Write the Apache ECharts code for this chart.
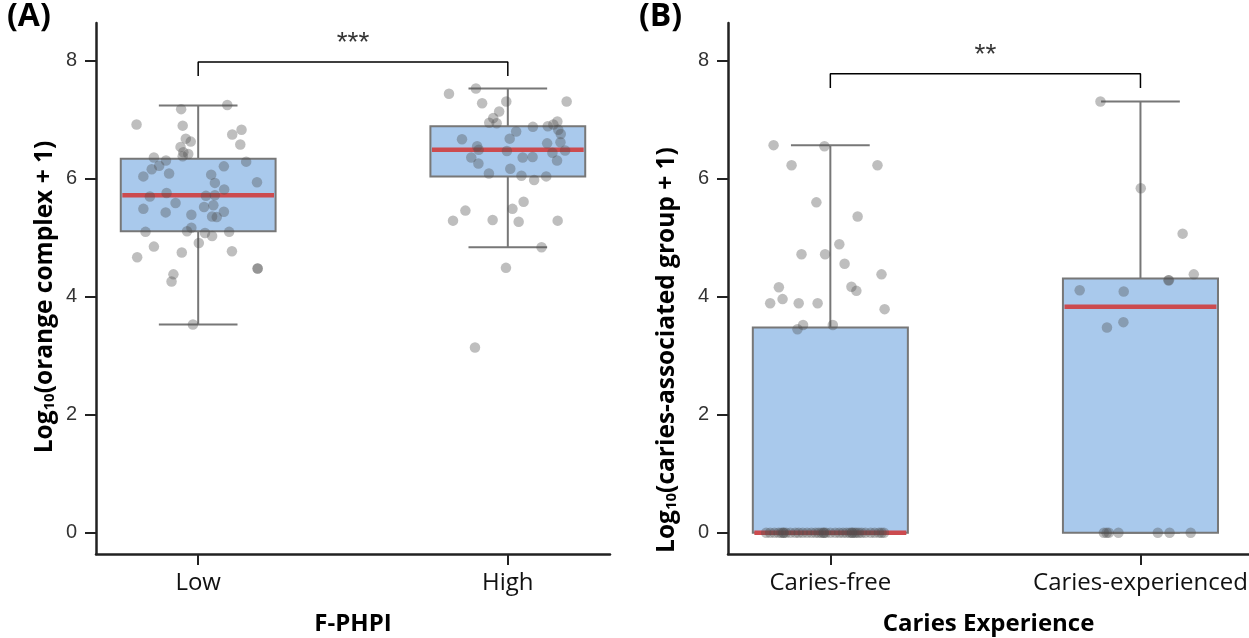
<!DOCTYPE html>
<html><head><meta charset="utf-8">
<script src="https://cdn.jsdelivr.net/npm/echarts@6/dist/echarts.min.js"></script>
<style>html,body{margin:0;padding:0;background:#fff}#c{width:1249px;height:638px}</style>
</head><body><div id="c"></div>
<script>
// ---------- data ----------
const catsA = ['Low', 'High'];
const catsB = ['Caries-free', 'Caries-experienced'];
const yTicks = [0, 2, 4, 6, 8];

// box stats: [min, q1, median, q3, max]
const boxLow = [3.53, 5.11, 5.72, 6.34, 7.24];
const boxHigh = [4.84, 6.04, 6.49, 6.89, 7.53];
const boxFree = [0, 0, 0, 3.48, 6.57];
const boxExp = [0, 0, 3.83, 4.31, 7.31];

// points: values and horizontal jitter (in category units)
const lowValues = [7.18,7.25,6.92,6.90,6.83,6.75,6.58,6.68,6.63,6.54,6.45,6.42,6.38,6.36,6.31,6.22,6.16,6.04,6.09,6.21,6.29,6.07,5.93,5.94,5.82,5.76,5.70,5.71,5.72,5.59,5.55,5.49,5.52,5.43,5.39,5.44,5.36,5.35,5.10,5.17,5.11,5.08,5.03,5.10,4.91,4.85,4.67,4.75,4.77,4.38,4.26,4.48,4.48,3.53];
const lowJitter = [-0.055,0.094,-0.199,-0.050,0.140,0.110,0.136,-0.040,-0.024,-0.057,-0.048,-0.032,-0.050,-0.143,-0.104,-0.126,-0.150,-0.177,-0.094,0.083,0.155,0.042,0.054,0.190,0.084,-0.102,-0.156,0.025,0.054,-0.073,0.049,-0.177,0.019,-0.105,-0.022,0.083,0.045,0.060,-0.170,-0.022,-0.036,0.022,0.045,0.100,0.002,-0.143,-0.197,-0.053,0.109,-0.080,-0.086,0.192,0.192,-0.017];

const highValues = [7.44,7.53,7.28,7.31,7.31,7.14,7.03,6.95,6.94,6.97,6.88,6.89,6.92,6.83,6.76,6.80,6.68,6.67,6.62,6.60,6.55,6.49,6.47,6.48,6.44,6.36,6.37,6.36,6.31,6.26,6.17,6.09,6.05,5.98,6.04,5.61,5.49,5.46,5.29,5.30,5.27,5.29,4.84,4.49,3.14];
const highJitter = [-0.190,-0.103,-0.083,-0.005,0.190,-0.028,-0.047,-0.060,-0.036,0.160,0.081,0.129,0.147,0.163,0.171,0.027,0.006,-0.148,0.170,0.127,-0.099,-0.094,-0.003,0.185,0.144,0.048,0.080,-0.118,0.159,-0.095,0.008,-0.061,0.044,0.085,0.124,0.051,0.015,-0.137,-0.177,-0.049,0.035,0.161,0.109,-0.006,-0.106];

const freeValues = [6.57,6.55,6.23,6.23,5.60,5.36,4.89,4.72,4.72,4.56,4.38,4.16,4.17,4.10,3.96,3.89,3.89,3.89,3.79,3.52,3.45,3.52,
  0,0,0,0,0,0,0,0,0,0,0,0,0,0,0,0,0,0,0,0,0,0,0,0,0,0,0,0,0,0,0,0,0,0,0,0,0,0,0,0];
const freeJitter = [-0.183,-0.019,-0.125,0.152,-0.045,0.088,0.029,-0.093,-0.017,0.046,0.165,-0.166,0.068,0.084,-0.154,-0.194,-0.102,-0.041,0.175,-0.088,-0.106,0.008,
  -0.207,-0.194,-0.180,-0.167,-0.158,-0.151,-0.143,-0.129,-0.113,-0.102,-0.089,-0.075,-0.061,-0.048,-0.038,-0.029,-0.021,-0.014,0.000,0.016,0.029,0.041,0.052,0.062,0.070,0.078,0.084,0.092,0.101,0.113,0.130,0.143,0.157,0.165,0.173,-0.151,-0.021,0.070];

const expValues = [7.31,5.84,5.07,4.38,4.28,4.28,4.11,4.09,3.57,3.48,0,0,0,0,0,0,0];
const expJitter = [-0.129,0.001,0.136,0.172,0.090,0.092,-0.196,-0.054,-0.055,-0.108,-0.118,-0.102,-0.109,-0.071,0.056,0.094,0.162];

// significance annotations: [bracket top, bracket foot, label y]
const sigA = {top: 7.98, foot: 7.74, textY: 8.30, text: '***'};
const sigB = {top: 7.78, foot: 7.54, textY: 8.10, text: '**'};

// ---------- styles ----------
const BOX_FILL = '#a9c9ec';
const BOX_EDGE = '#777777';
const MED_COLOR = '#cc4b4f';
const PT_COLOR = 'rgba(80,80,80,0.46)';
const HW = 0.25, CW = 0.127;
const FONT = "'Open Sans', sans-serif";
const NUMFONT = "'Liberation Sans', Arial, sans-serif";

function renderBox(params, api) {
  const x = api.value(0), mn = api.value(1), q1 = api.value(2), md = api.value(3), q3 = api.value(4), mx = api.value(5);
  const p = (a, b) => api.coord([a, b]);
  const ls = {stroke: BOX_EDGE, lineWidth: 2};
  const line = (a, b, style) => ({type: 'line', shape: {x1: a[0], y1: a[1], x2: b[0], y2: b[1]}, style});
  const tl = p(x - HW, q3), br = p(x + HW, q1);
  return {type: 'group', children: [
    line(p(x, q3), p(x, mx), ls),
    line(p(x - CW, mx), p(x + CW, mx), ls),
    line(p(x, q1), p(x, mn), ls),
    line(p(x - CW, mn), p(x + CW, mn), ls),
    {type: 'rect', shape: {x: tl[0], y: tl[1], width: br[0] - tl[0], height: br[1] - tl[1]}, style: {fill: BOX_FILL, stroke: BOX_EDGE, lineWidth: 2}},
    line(p(x - HW + 0.005, md), p(x + HW - 0.005, md), {stroke: MED_COLOR, lineWidth: 4.5})
  ]};
}

function xAxisDef(grid, cats, name, max) {
  return {
    type: 'value', gridIndex: grid, min: -0.33, max: max,
    axisLine: {show: true, onZero: false, lineStyle: {color: '#222', width: 2.5}},
    splitLine: {show: false},
    axisTick: {show: true, customValues: [0, 1], length: 11, lineStyle: {color: '#222', width: 2}},
    axisLabel: {customValues: [0, 1], formatter: v => cats[Math.round(v)], fontSize: 24, color: '#111', margin: 17, fontFamily: FONT},
    name: name, nameLocation: 'middle', nameGap: 58,
    nameTextStyle: {fontWeight: 'bold', fontSize: 24, color: '#000', fontFamily: FONT}
  };
}
function yAxisDef(grid) {
  return {
    type: 'value', gridIndex: grid, min: -0.36, max: 8.64,
    axisLine: {show: true, onZero: false, lineStyle: {color: '#222', width: 2.5}},
    splitLine: {show: false},
    axisTick: {show: true, customValues: yTicks, length: 11, lineStyle: {color: '#222', width: 2}},
    axisLabel: {customValues: yTicks, fontSize: 20, color: '#333', margin: 19, fontFamily: NUMFONT}
  };
}
function pts(vals, jit, c) { return vals.map((v, i) => [c + jit[i], v]); }
function bracket(s) { return [[0, s.foot], [0, s.top], [1, s.top], [1, s.foot]]; }

const chart = echarts.init(document.getElementById('c'), null, {renderer: 'canvas'});
const richTitle = {
  b: {fontSize: 24.5, fontWeight: 'bold', fontFamily: FONT, fill: '#000', color: '#000'},
  s: {fontSize: 15, fontWeight: 'bold', fontFamily: FONT, fill: '#000', color: '#000', verticalAlign: 'bottom', padding: [10, 0, 0, 0]}
};
chart.setOption({
  animation: false,
  grid: [
    {left: 96, top: 23, width: 514, height: 531, outerBoundsMode: 'none', containLabel: false},
    {left: 728, top: 23, width: 521, height: 531, outerBoundsMode: 'none', containLabel: false}
  ],
  xAxis: [xAxisDef(0, catsA, 'F-PHPI', 1.33), xAxisDef(1, catsB, 'Caries Experience', 1.35)],
  yAxis: [yAxisDef(0), yAxisDef(1)],
  graphic: [
    {type: 'text', left: 7, top: 1, style: {text: '(A)', font: "bold 32px 'Open Sans', sans-serif", fill: '#000'}},
    {type: 'text', left: 639, top: 1, style: {text: '(B)', font: "bold 32px 'Open Sans', sans-serif", fill: '#000'}},
    {type: 'text', x: 45, y: 297, rotation: Math.PI / 2, style: {text: '{b|Log}{s|10}{b|(orange complex + 1)}', rich: richTitle, align: 'center', verticalAlign: 'middle'}},
    {type: 'text', x: 667, y: 350, rotation: Math.PI / 2, style: {text: '{b|Log}{s|10}{b|(caries-associated group + 1)}', rich: richTitle, align: 'center', verticalAlign: 'middle'}}
  ],
  series: [
    {type: 'custom', xAxisIndex: 0, yAxisIndex: 0, renderItem: renderBox, z: 2,
     data: [[0, ...boxLow], [1, ...boxHigh]], encode: {x: 0, y: [1, 2, 3, 4, 5]}},
    {type: 'custom', xAxisIndex: 1, yAxisIndex: 1, renderItem: renderBox, z: 2,
     data: [[0, ...boxFree], [1, ...boxExp]], encode: {x: 0, y: [1, 2, 3, 4, 5]}},
    {type: 'scatter', xAxisIndex: 0, yAxisIndex: 0, z: 3, symbolSize: 10.5, itemStyle: {color: PT_COLOR},
     data: pts(lowValues, lowJitter, 0).concat(pts(highValues, highJitter, 1))},
    {type: 'scatter', xAxisIndex: 1, yAxisIndex: 1, z: 3, symbolSize: 10.5, itemStyle: {color: PT_COLOR},
     data: pts(freeValues, freeJitter, 0).concat(pts(expValues, expJitter, 1))},
    {type: 'line', xAxisIndex: 0, yAxisIndex: 0, data: bracket(sigA), symbol: 'none', lineStyle: {color: '#000', width: 1.5}, z: 4},
    {type: 'line', xAxisIndex: 1, yAxisIndex: 1, data: bracket(sigB), symbol: 'none', lineStyle: {color: '#000', width: 1.5}, z: 4},
    {type: 'scatter', xAxisIndex: 0, yAxisIndex: 0, data: [[0.5, sigA.textY]], symbolSize: 0, z: 4,
     label: {show: true, position: 'inside', formatter: sigA.text, fontSize: 28, color: '#000', fontFamily: NUMFONT}},
    {type: 'scatter', xAxisIndex: 1, yAxisIndex: 1, data: [[0.5, sigB.textY]], symbolSize: 0, z: 4,
     label: {show: true, position: 'inside', formatter: sigB.text, fontSize: 28, color: '#000', fontFamily: NUMFONT}}
  ]
});
</script></body></html>
